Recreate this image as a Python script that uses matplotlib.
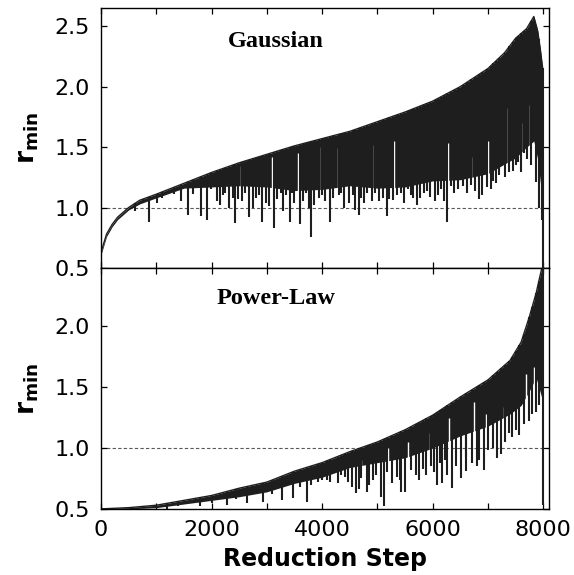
import numpy as np
import matplotlib
matplotlib.use("Agg")
from matplotlib import pyplot as plt
from matplotlib.ticker import MultipleLocator

# Gaussian: верхняя огибающая и нижняя граница сплошной области
gauss_steps = [0, 100, 200, 300, 500, 700, 1000, 1500, 2000, 2500, 3000, 3500, 4000, 4500,
               5000, 5500, 6000, 6500, 7000, 7300, 7500, 7700, 7830, 7900, 7950, 7990]
gauss_upper = [0.63, 0.78, 0.86, 0.92, 1.00, 1.06, 1.11, 1.20, 1.29, 1.37, 1.44, 1.51, 1.57, 1.63,
               1.71, 1.79, 1.88, 2.00, 2.15, 2.28, 2.40, 2.48, 2.58, 2.46, 2.30, 2.15]
gauss_lower = [0.61, 0.76, 0.84, 0.90, 0.98, 1.03, 1.08, 1.16, 1.17, 1.18, 1.17, 1.14, 1.15, 1.18,
               1.16, 1.17, 1.22, 1.23, 1.28, 1.36, 1.41, 1.50, 1.55, 1.40, 1.20, 1.00]
gauss_spike_x = [614, 758, 867, 1011, 1102, 1318, 1445, 1571, 1661, 1806, 1914, 1990,
                 2095, 2150, 2200, 2250, 2312, 2380, 2420, 2474, 2550, 2600, 2673, 2750, 2800,
                 2860, 2908, 2980, 3034, 3124, 3180, 3250, 3287, 3350, 3413, 3450, 3486, 3594,
                 3650, 3700, 3757, 3793, 3850, 3937, 4000, 4050, 4136, 4200, 4300, 4350, 4389,
                 4479, 4550, 4587, 4660, 4700, 4750, 4820, 4894, 4950, 5021, 5100, 5165, 5219,
                 5280, 5350, 5420, 5490, 5550, 5600, 5653, 5720, 5779, 5850, 5900, 5960, 6050,
                 6100, 6150, 6200, 6267, 6330, 6393, 6450, 6550, 6620, 6700, 6760, 6845, 6900,
                 6989, 7050, 7100, 7150, 7206, 7300, 7387, 7450, 7500, 7550, 7603, 7650, 7700,
                 7780, 7874, 7920, 7983, 7995]
gauss_spike_y = [0.97, 1.05, 0.88, 1.04, 1.08, 1.11, 1.05, 0.94, 1.11, 0.93, 0.90, 1.15,
                 1.05, 1.02, 1.10, 1.12, 1.00, 1.08, 0.875, 1.07, 1.05, 1.12, 0.92, 1.00, 1.08,
                 1.10, 0.88, 1.04, 1.01, 0.83, 1.07, 1.12, 0.97, 1.10, 0.88, 1.12, 1.04, 0.86,
                 1.05, 1.12, 1.00, 0.76, 1.02, 1.08, 1.10, 1.05, 0.88, 1.08, 1.10, 1.12, 1.00,
                 1.04, 1.10, 0.98, 0.94, 1.08, 1.04, 1.12, 1.05, 1.12, 1.05, 1.08, 0.93, 1.07,
                 1.06, 1.10, 1.12, 1.04, 1.15, 1.10, 1.08, 1.02, 1.08, 1.12, 1.14, 1.09, 1.05,
                 1.10, 1.15, 1.05, 0.88, 1.18, 1.12, 1.15, 1.18, 1.12, 1.19, 1.14, 1.07, 1.10,
                 1.17, 1.15, 1.22, 1.20, 1.27, 1.25, 1.29, 1.30, 1.35, 1.38, 1.29, 1.45, 1.40,
                 1.35, 1.21, 1.00, 0.90, 0.50]
gauss_gap_x = [2530, 3088, 3558, 3980, 4280, 4900, 5300, 5635, 6285, 6700, 7000, 7369, 7600, 7760]
gauss_gap_top = [1.34, 1.42, 1.45, 1.50, 1.49, 1.52, 1.55, 1.46, 1.53, 1.42, 1.55, 1.82, 1.70, 1.85]
gauss_gap_bot = [1.10, 1.05, 1.10, 1.10, 1.10, 1.10, 1.10, 1.10, 1.15, 1.15, 1.20, 1.30, 1.35, 1.40]

# Power-Law
power_steps = [0, 500, 1000, 1500, 2000, 2500, 3000, 3500, 4000, 4500, 5000, 5500, 6000,
               6500, 7000, 7400, 7600, 7750, 7870, 7970, 8000]
power_upper = [0.50, 0.51, 0.53, 0.57, 0.61, 0.67, 0.72, 0.81, 0.88, 0.97, 1.05, 1.15, 1.27,
               1.42, 1.56, 1.72, 1.87, 2.08, 2.27, 2.47, 2.48]
power_lower = [0.50, 0.50, 0.51, 0.54, 0.57, 0.60, 0.64, 0.71, 0.76, 0.84, 0.88, 0.92, 1.00,
               1.10, 1.18, 1.28, 1.35, 1.47, 1.58, 1.42, 1.00]
power_spike_x = [1200, 1400, 1788, 2000, 2275, 2450, 2636, 2925, 3100, 3269, 3468, 3600, 3720,
                 3800, 3919, 3990, 4082, 4150, 4280, 4350, 4407, 4460, 4533, 4605, 4660, 4700,
                 4804, 4850, 4912, 4980, 5057, 5111, 5180, 5256, 5346, 5400, 5436, 5508, 5600,
                 5700, 5761, 5820, 5887, 5978, 6030, 6086, 6130, 6177, 6230, 6267, 6357, 6420,
                 6520, 6600, 6610, 6718, 6800, 6845, 6935, 7000, 7100, 7170, 7242, 7300, 7380,
                 7441, 7500, 7567, 7650, 7747, 7800, 7874, 7920, 8000]
power_spike_y = [0.50, 0.52, 0.52, 0.55, 0.53, 0.58, 0.55, 0.56, 0.62, 0.57, 0.59, 0.68, 0.56,
                 0.70, 0.72, 0.74, 0.74, 0.72, 0.71, 0.78, 0.76, 0.72, 0.68, 0.63, 0.66, 0.75,
                 0.64, 0.70, 0.74, 0.78, 0.60, 0.52, 0.80, 0.71, 0.76, 0.74, 0.64, 0.64, 0.82,
                 0.78, 0.74, 0.83, 0.78, 0.85, 0.80, 0.70, 0.88, 0.71, 0.90, 0.78, 0.67, 0.85,
                 0.75, 0.93, 0.81, 0.88, 0.85, 0.90, 0.82, 0.98, 1.00, 0.92, 0.95, 1.05, 1.12,
                 1.09, 1.15, 1.11, 1.20, 1.22, 1.28, 1.30, 1.35, 0.53]
power_gap_x = [4700, 5200, 5550, 5950, 6300, 6755, 6971, 7287, 7693, 7838]
power_gap_top = [0.90, 1.00, 1.05, 1.12, 1.25, 1.38, 1.28, 1.34, 1.61, 1.67]
power_gap_bot = [0.75, 0.80, 0.82, 0.88, 0.95, 1.00, 1.02, 1.08, 1.22, 1.32]

INK = '#1e1e1e'


def draw_panel(ax, steps, upper, lower, sx, sy, gx, gtop, gbot, ylim, title, ylabels):
    ax.axhline(1.0, color='0.35', lw=0.8, ls=(0, (3, 2)), zorder=1)
    ax.fill_between(steps, lower, upper, color=INK, lw=0, zorder=2)
    ax.plot(steps, upper, color=INK, lw=1.0, zorder=2)
    ax.vlines(gx, gbot, gtop, color='white', lw=1.0, zorder=2.5)
    tops = np.interp(sx, steps, upper)
    ax.vlines(sx, sy, tops, color=INK, lw=1.5, zorder=3)

    ax.set_xlim(0, 8100)
    ax.set_ylim(*ylim)
    ax.xaxis.set_major_locator(MultipleLocator(2000))
    ax.xaxis.set_minor_locator(MultipleLocator(1000))
    ax.set_yticks(ylabels)
    ax.tick_params(which='both', direction='in', top=True, right=True,
                   length=4, width=0.9, labelsize=16, pad=8)
    for sp in ax.spines.values():
        sp.set_linewidth(1.0)
    ax.set_ylabel(r'$\mathbf{r_{min}}$', fontsize=19)
    ax.yaxis.set_label_coords(-0.135, 0.5)
    ax.text(0.39, 0.873, title, transform=ax.transAxes, ha='center', va='center',
            fontsize=17.5, fontweight='bold', family='Liberation Serif')


plt.rcParams['font.family'] = ['DejaVu Sans']
plt.rcParams['mathtext.fontset'] = 'dejavusans'

fig = plt.figure(figsize=(5.74, 5.75), dpi=100)
ax1 = fig.add_axes([0.176, 0.534, 0.780, 0.452])
ax2 = fig.add_axes([0.176, 0.115, 0.780, 0.419])

draw_panel(ax1, gauss_steps, gauss_upper, gauss_lower, gauss_spike_x, gauss_spike_y,
           gauss_gap_x, gauss_gap_top, gauss_gap_bot, (0.5, 2.65), 'Gaussian',
           [0.5, 1.0, 1.5, 2.0, 2.5])
draw_panel(ax2, power_steps, power_upper, power_lower, power_spike_x, power_spike_y,
           power_gap_x, power_gap_top, power_gap_bot, (0.5, 2.48), 'Power-Law',
           [0.5, 1.0, 1.5, 2.0])

ax1.tick_params(labelbottom=False)
ax2.set_xlabel('Reduction Step', fontsize=17, fontweight='bold', labelpad=5)

fig.savefig('out.png', dpi=100)
